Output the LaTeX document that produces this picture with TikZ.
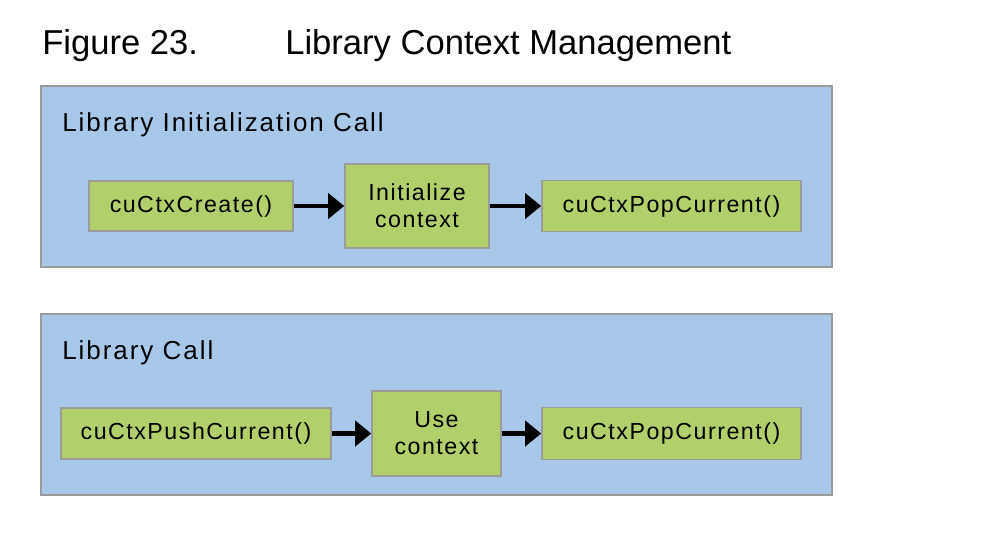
\documentclass[tikz,border=0pt]{standalone}
\usepackage{fontspec}
\setmainfont{Liberation Sans}
\newfontfamily\panelfont{Liberation Sans}[LetterSpace=7.5]
\newfontfamily\callfont{Liberation Sans}[LetterSpace=6.5]
\usepackage{xcolor}
\usepackage{tikz}
\usetikzlibrary{arrows.meta,positioning}
\definecolor{ctxblue}{HTML}{A8C8E9}
\definecolor{ctxgreen}{HTML}{B1CF6A}
\definecolor{ctxgray}{HTML}{9B9B9B}

\begin{document}
\begin{tikzpicture}[
    x=0.025cm,y=-0.025cm,
    panel/.style    = {draw=ctxgray, fill=ctxblue, line width=1.1pt},
    paneltxt/.style = {anchor=base west, inner sep=0pt,
                       font=\panelfont\fontsize{18.5}{22}\selectfont},
    callbox/.style  = {draw=ctxgray, fill=ctxgreen, line width=1.1pt,
                       align=center, inner sep=0pt,
                       font=\callfont\fontsize{16.5}{19.2}\selectfont},
    flow/.style     = {-{Triangle[length=11.4pt,width=17.8pt]}, line width=3.2pt},
    titletxt/.style = {anchor=base west, inner sep=0pt,
                       font=\fontsize{24.6}{28}\selectfont},
  ]
  \useasboundingbox (0,0) rectangle (1004,534);

  \node[titletxt] (fig)   at (42,54)  {Figure 23.};
  \node[titletxt] (title) at (285,54) {Library Context Management};

  % library initialization call
  \draw[panel] (41,86) rectangle (832,267);
  \node[paneltxt] (initlbl) at (62,131) {Library Initialization Call};

  \node[callbox, minimum width=5.1cm,   minimum height=1.25cm]  (create) at (191,206)   {cuCtxCreate()};
  \node[callbox, minimum width=3.6cm,   minimum height=2.1cm]   (init)   at (417,206)   {Initialize\\context};
  \node[callbox, minimum width=6.475cm, minimum height=1.275cm] (popa)   at (671.5,206) {cuCtxPopCurrent()};

  \draw[flow] (create) -- (init);
  \draw[flow] (init) -- (popa);

  % library call
  \draw[panel] (41,314) rectangle (832,495);
  \node[paneltxt] (calllbl) at (62,359) {Library Call};

  \node[callbox, minimum width=6.75cm,  minimum height=1.275cm] (push)   at (196,433.5)   {cuCtxPushCurrent()};
  \node[callbox, minimum width=3.225cm, minimum height=2.125cm] (use)    at (436.5,433.5) {Use\\context};
  \node[callbox, minimum width=6.475cm, minimum height=1.3cm]   (popb)   at (671.5,433.5) {cuCtxPopCurrent()};

  \draw[flow] (push) -- (use);
  \draw[flow] (use) -- (popb);

\end{tikzpicture}
\end{document}
